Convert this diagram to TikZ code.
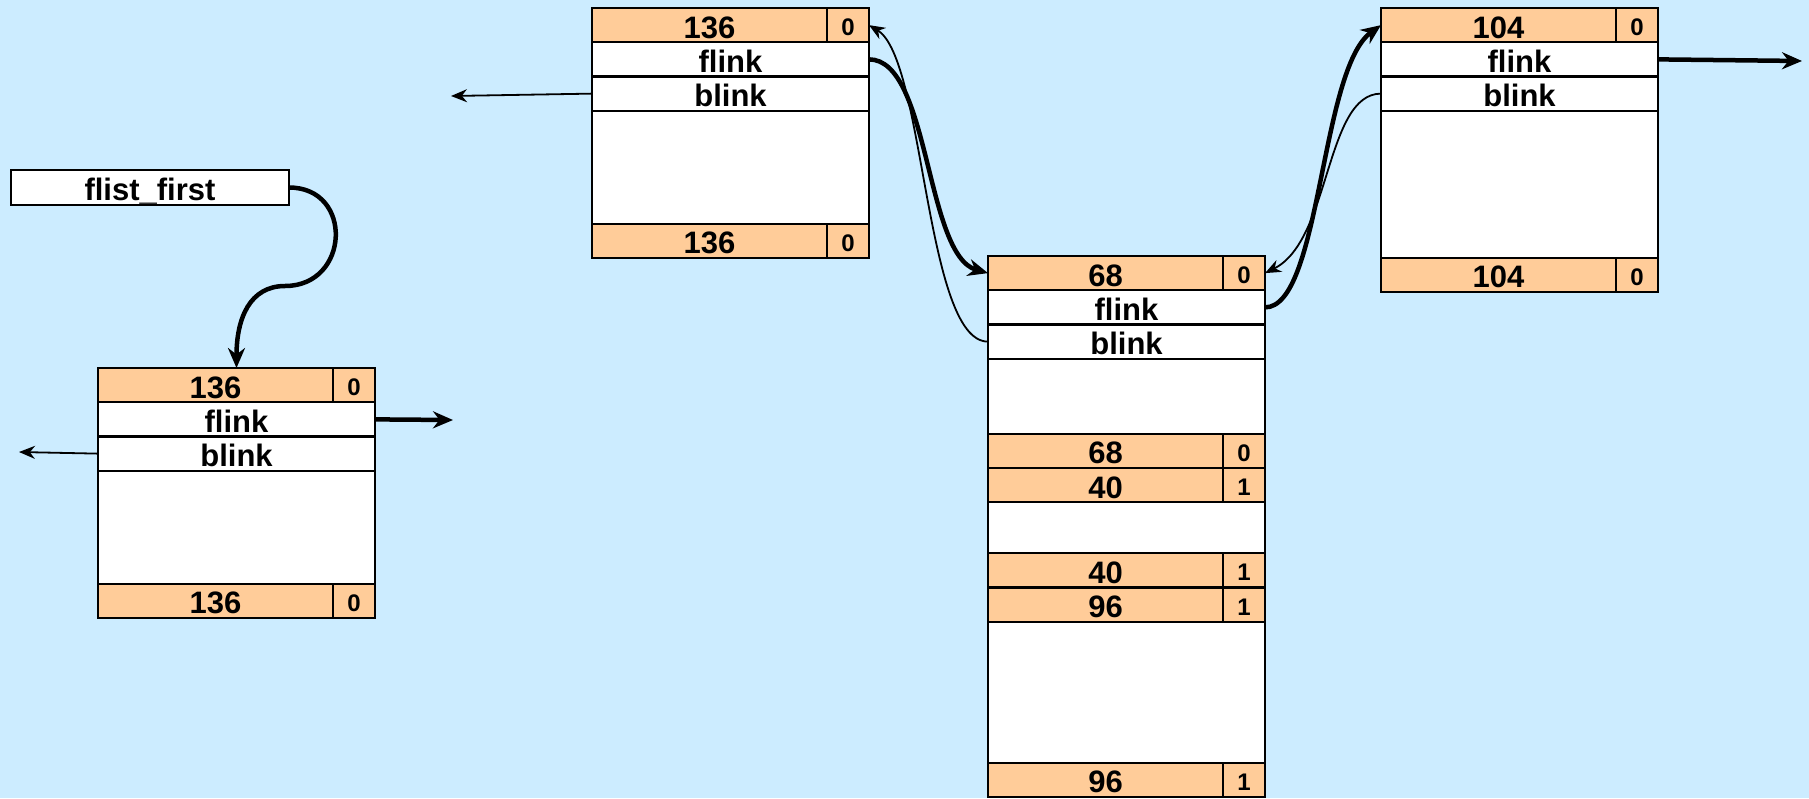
\documentclass[tikz,border=0pt]{standalone}
\usepackage{fontspec}
\setmainfont{Liberation Sans}[Ligatures=CommonOff]
\usetikzlibrary{arrows.meta}
\usetikzlibrary{positioning}
\definecolor{cbg}{rgb}{0.8, 0.925, 1.0}
\definecolor{cpeach}{rgb}{1.0, 0.8, 0.6}
\newcommand{\cellfont}{\fontsize{31}{36}\selectfont\bfseries}
\newcommand{\tagfont}{\fontsize{24}{28}\selectfont\bfseries}

\begin{document}
\begin{tikzpicture}[x=1pt, y=-1pt,
  cell/.style={draw, line width=2.4pt, inner sep=0pt, outer sep=0pt,
    minimum height=34.25pt, font=\cellfont, text height=26pt, text depth=0pt},
  szcell/.style={cell, fill=cpeach, minimum width=235pt},
  tagcell/.style={cell, fill=cpeach, minimum width=42pt, font=\tagfont, text height=21pt},
  field/.style={cell, fill=white, minimum width=277pt},
  fwdlink/.style={line width=4.5pt, -{Stealth[length=20pt, width=17pt]}},
  bwdlink/.style={line width=1.8pt, -{Stealth[length=16pt, width=13pt]}}]
  \useasboundingbox (0, 0) rectangle (1809, 798);
  \fill [cbg] (0, 0) rectangle (1809, 798);

  \node [field, minimum width=278pt, minimum height=35pt, anchor=north west] (flist) at (11, 170) {flist\_first};

  % free chunk on the far left
  \node [szcell, anchor=north west] (A-size) at (98, 368) {136};
  \node [tagcell, right=0pt of A-size] (A-tag) {0};
  \node [field, below right=0pt and 0pt of A-size.south west] (A-flink) {flink};
  \node [field, below=0pt of A-flink] (A-blink) {blink};
  \node [field, minimum height=113pt, below=0pt of A-blink] (A-body) {};
  \node [szcell, below right=0pt and 0pt of A-body.south west] (A-foot) {136};
  \node [tagcell, right=0pt of A-foot] (A-foottag) {0};

  \node [szcell, anchor=north west] (B-size) at (592, 8) {136};
  \node [tagcell, right=0pt of B-size] (B-tag) {0};
  \node [field, below right=0pt and 0pt of B-size.south west] (B-flink) {flink};
  \node [field, below=0pt of B-flink] (B-blink) {blink};
  \node [field, minimum height=113pt, below=0pt of B-blink] (B-body) {};
  \node [szcell, below right=0pt and 0pt of B-body.south west] (B-foot) {136};
  \node [tagcell, right=0pt of B-foot] (B-foottag) {0};

  \node [szcell, anchor=north west] (C-size) at (988, 256) {68};
  \node [tagcell, right=0pt of C-size] (C-tag) {0};
  \node [field, below right=0pt and 0pt of C-size.south west] (C-flink) {flink};
  \node [field, below=0pt of C-flink] (C-blink) {blink};
  \node [field, minimum height=75pt, below=0pt of C-blink] (C-body) {};
  \node [szcell, below right=0pt and 0pt of C-body.south west] (C-foot) {68};
  \node [tagcell, right=0pt of C-foot] (C-foottag) {0};

  % two allocated chunks below it
  \node [szcell, below=0pt of C-foot] (E-size) {40};
  \node [tagcell, right=0pt of E-size] (E-tag) {1};
  \node [field, minimum height=51pt, below right=0pt and 0pt of E-size.south west] (E-body) {};
  \node [szcell, below right=0pt and 0pt of E-body.south west] (E-foot) {40};
  \node [tagcell, right=0pt of E-foot] (E-foottag) {1};

  \node [szcell, below=0pt of E-foot] (F-size) {96};
  \node [tagcell, right=0pt of F-size] (F-tag) {1};
  \node [field, minimum height=141pt, below right=0pt and 0pt of F-size.south west] (F-body) {};
  \node [szcell, below right=0pt and 0pt of F-body.south west] (F-foot) {96};
  \node [tagcell, right=0pt of F-foot] (F-foottag) {1};

  \node [szcell, anchor=north west] (D-size) at (1381, 8) {104};
  \node [tagcell, right=0pt of D-size] (D-tag) {0};
  \node [field, below right=0pt and 0pt of D-size.south west] (D-flink) {flink};
  \node [field, below=0pt of D-flink] (D-blink) {blink};
  \node [field, minimum height=147pt, below=0pt of D-blink] (D-body) {};
  \node [szcell, below right=0pt and 0pt of D-body.south west] (D-foot) {104};
  \node [tagcell, right=0pt of D-foot] (D-foottag) {0};

  \coordinate (bend) at (285, 286);
  \coordinate (A-next) at (453, 420);
  \coordinate (A-prev) at (19, 452);
  \coordinate (B-prev) at (451, 96);
  \coordinate (D-next) at (1802, 61);

  \draw [fwdlink] (flist.east) .. controls +(65, 0) and +(65, 0) .. (bend)
    .. controls +(-35, 0) and +(0, -50) .. (A-size.north -| A-flink.north);
  \draw [fwdlink] (A-flink.east) -- (A-next);
  \draw [bwdlink] (A-blink.west) -- (A-prev);
  \draw [bwdlink] (B-blink.west) -- (B-prev);
  \draw [fwdlink] (D-flink.east) -- (D-next);

  \draw [fwdlink] (B-flink.east) .. controls +(61, 0) and +(-63, -18) .. (C-size.west);
  \draw [bwdlink] (C-blink.west) .. controls +(-63, 0) and +(56, 34) .. (B-tag.east);
  \draw [fwdlink] (C-flink.east) .. controls +(56, 0) and +(-61, 44) .. (D-size.west);
  \draw [bwdlink] (D-blink.west) .. controls +(-56, 0) and +(66, -33) .. (C-tag.east);
\end{tikzpicture}
\end{document}
